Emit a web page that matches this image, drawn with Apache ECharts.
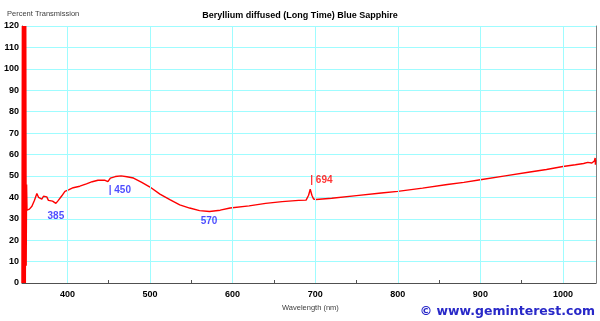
<!DOCTYPE html>
<html>
<head>
<meta charset="utf-8">
<script src="https://cdn.jsdelivr.net/npm/echarts@6/dist/echarts.min.js"></script>
<style>
  html, body { margin: 0; padding: 0; background: #fff; }
  #chart { width: 600px; height: 321px; }
</style>
</head>
<body>
<div id="chart"></div>
<script>
// spectrum (wavelength nm, % transmission)
var noiseData = [
  [345, 0], [345.5, 120], [346, 0], [346.5, 120], [347, 0], [347.5, 120],
  [348, 0], [348.5, 120], [349, 0], [349.5, 120], [350, 8], [350.5, 46], [351, 34]
];
var spectrum = [
  [351, 34], [354, 34.5], [357, 35.8], [360, 38.5], [363, 41.8], [365, 40],
  [367, 40.6], [369, 39.2], [371, 40.5], [373, 39.6], [375, 40.2], [377, 38.6],
  [379, 39.2], [382, 38.2], [386, 37.2], [389, 38.6], [393, 40.6], [397, 42.8],
  [402, 43.6], [407, 44.5], [415, 45.2], [423, 46.3], [430, 47.3], [437, 48],
  [445, 48], [449, 47.3], [452, 49], [458, 49.7], [465, 50], [472, 49.6],
  [480, 49], [490, 47], [500, 44.8], [512, 41.5], [524, 38.9], [536, 36.5],
  [548, 35], [560, 33.8], [572, 33.4], [585, 34], [597, 35], [620, 36],
  [640, 37.2], [660, 38], [680, 38.6], [689, 38.7], [692, 41], [694, 43.8],
  [696, 41], [698, 39.2], [701, 39], [720, 39.6], [750, 40.8], [780, 42],
  [800, 42.8], [830, 44.3], [860, 46], [880, 47], [900, 48.2], [930, 50],
  [960, 51.8], [980, 53], [1000, 54.4], [1015, 55.2], [1025, 55.8],
  [1030, 56.3], [1035, 56], [1038, 57], [1039, 58.4], [1039.3, 55.2], [1039.6, 57.5]
];
var xLabels = [400, 500, 600, 700, 800, 900, 1000];
var xTicks = [400, 450, 500, 550, 600, 650, 700, 750, 800, 850, 900, 950, 1000];
var notes = [
  { wl: 386, val: 31, text: '385', color: '#1e1eff', align: 'center' },
  { wl: 450, val: 43.5, text: '| 450', color: '#1e1eff', align: 'left' },
  { wl: 571.5, val: 28.7, text: '570', color: '#1e1eff', align: 'center' },
  { wl: 694, val: 48.2, text: '| 694', color: '#ff0000', align: 'left' }
];

var myChart = echarts.init(document.getElementById('chart'));
var gridColor = '#9ffcff';

var option = {
  backgroundColor: '#fff',
  animation: false,
  grid: { left: 22, right: 4, top: 26, bottom: 38 },
  title: [
    {
      text: 'Beryllium diffused (Long Time) Blue Sapphire',
      left: 'center', top: 11, padding: 0,
      textStyle: { fontFamily: 'Liberation Sans', fontSize: 9, fontWeight: 'bold', color: '#000' }
    },
    {
      text: 'Percent Transmission',
      left: 7, top: 10, padding: 0,
      textStyle: { fontFamily: 'Liberation Sans', fontSize: 7.5, fontWeight: 'normal', color: '#404040' }
    },
    {
      text: 'Wavelength (nm)',
      left: 282, top: 304, padding: 0,
      textStyle: { fontFamily: 'Liberation Sans', fontSize: 7.5, fontWeight: 'normal', color: '#404040' }
    },
    {
      text: '© www.geminterest.com',
      right: 5, top: 305, padding: 0,
      textStyle: { fontFamily: 'DejaVu Sans', fontSize: 12.5, fontWeight: 'bold', color: '#2828c8' }
    }
  ],
  xAxis: {
    type: 'value',
    min: 345,
    max: 1040,
    axisLine: { lineStyle: { color: '#505050', width: 1 } },
    axisTick: { show: true, inside: true, length: 3, customValues: xTicks, lineStyle: { color: '#505050' } },
    axisLabel: {
      customValues: xLabels,
      formatter: function (v) { return String(v); },
      margin: 7,
      fontFamily: 'Liberation Sans', fontSize: 9, fontWeight: 'bold', color: '#000'
    },
    splitLine: { show: false }
  },
  yAxis: [
    {
      type: 'value',
      min: 0, max: 120, interval: 10,
      axisLine: { show: true, lineStyle: { color: '#505050' } },
      axisTick: { show: false },
      axisLabel: { margin: 3, fontFamily: 'Liberation Sans', fontSize: 9, fontWeight: 'bold', color: '#000' },
      splitLine: { show: true, lineStyle: { color: gridColor, width: 1 } }
    },
    {
      type: 'value',
      position: 'right',
      min: 0, max: 120, interval: 10,
      axisLine: { show: true, lineStyle: { color: '#808080' } },
      axisTick: { show: false },
      axisLabel: { show: false },
      splitLine: { show: false }
    }
  ],
  series: [
    {
      type: 'line',
      data: spectrum,
      showSymbol: false,
      lineStyle: { color: '#ff0000', width: 1.4 },
      z: 3,
      markLine: {
        silent: true,
        symbol: 'none',
        label: { show: false },
        lineStyle: { color: gridColor, type: 'solid', width: 1 },
        data: xLabels.map(function (v) { return { xAxis: v }; })
      }
    },
    {
      type: 'line',
      data: noiseData,
      showSymbol: false,
      lineStyle: { color: '#ff0000', width: 1.5 },
      z: 4
    },
    {
      type: 'scatter',
      symbolSize: 0,
      z: 5,
      data: notes.map(function (n) {
        return {
          value: [n.wl, n.val],
          label: {
            show: true,
            formatter: n.text,
            position: n.align === 'left' ? 'right' : 'inside',
            distance: 0,
            color: n.color,
            fontFamily: 'Liberation Sans',
            fontSize: 10,
            fontWeight: 'bold'
          }
        };
      })
    }
  ]
};
myChart.setOption(option);
</script>
</body>
</html>
